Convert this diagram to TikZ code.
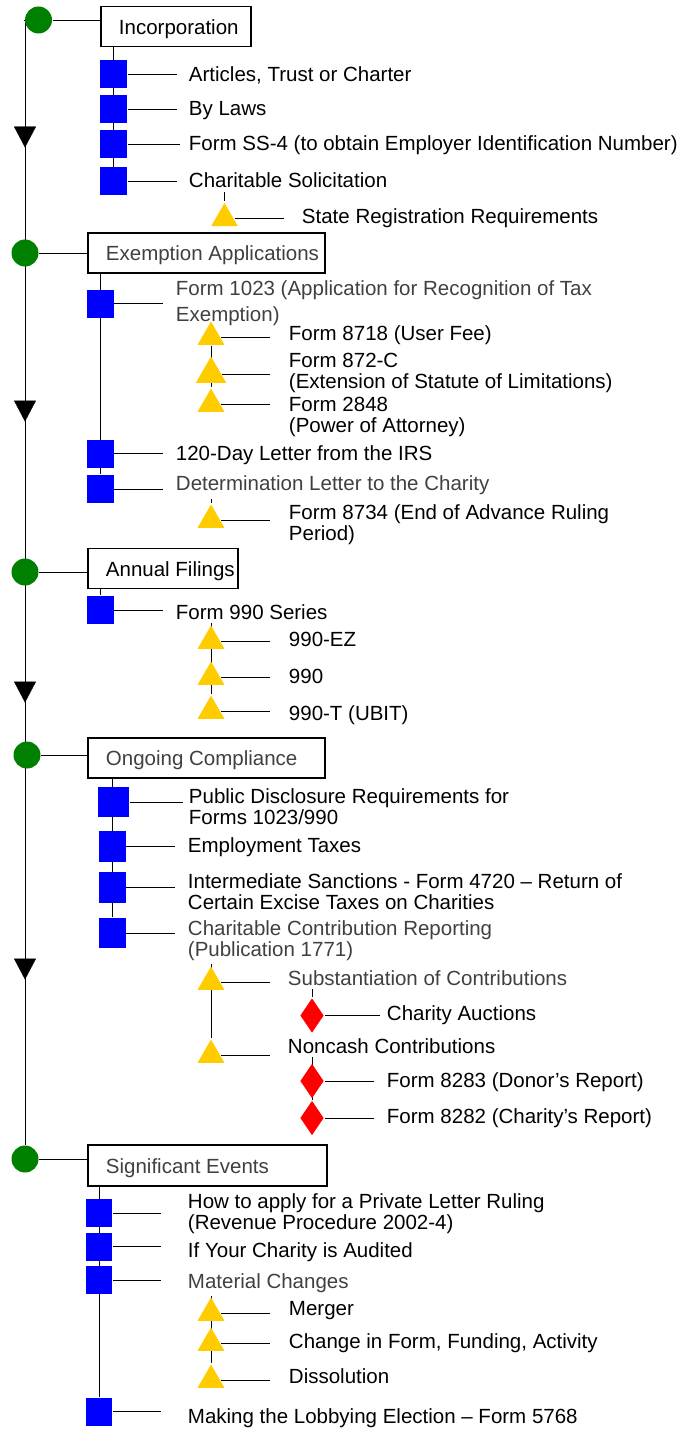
\documentclass[tikz,border=0pt]{standalone}
\usepackage{fontspec}
\setmainfont{Liberation Sans}
\usetikzlibrary{shapes.geometric, arrows.meta, decorations.markings}
\definecolor{stepgreen}{RGB}{0,128,0}
\definecolor{itemblue}{RGB}{0,0,255}
\definecolor{subgold}{RGB}{255,204,0}
\definecolor{leafred}{RGB}{255,0,0}
\tikzset{
    every node/.style={font=\fontsize{20.5}{21}\selectfont}
}
\tikzset{
    stage/.style={circle, fill=stepgreen, minimum size=27pt, inner sep=0pt},
    phase/.style={draw, fill=white, minimum height=40pt, anchor=west, inner sep=0pt},
    phaselbl/.style={anchor=west, inner xsep=18pt, inner ysep=0pt, text height=15pt, text depth=0pt},
    item/.style={rectangle, fill=itemblue, minimum width=27pt, minimum height=28pt, inner sep=0pt},
    sub/.style={regular polygon, regular polygon sides=3, fill=subgold, minimum size=31pt, inner sep=0pt},
    leaf/.style={diamond, fill=leafred, minimum width=24pt, minimum height=35pt, inner sep=0pt},
    txt/.style={anchor=base west, align=left, inner xsep=11pt, inner ysep=3pt},
    faint/.style={text=black!75}
}
\pgfdeclarelayer{background}
\pgfsetlayers{background,main}

\begin{document}
\begin{tikzpicture}[x=1pt, y=-1pt, line width=1.9pt]
  \useasboundingbox (0,0) rectangle (685,1431);

  % Incorporation
  \node (c1) [stage] at (38.5, 20) {};
  \node (b1) [phase, minimum width=150pt, label={[phaselbl, yshift=-1pt]west:Incorporation}] at (100, 26.5) {};
  \node (s11) [item] at (113.5, 74.5) {};
  \node (s12) [item] at (113.5, 109) {};
  \node (s13) [item] at (113.5, 144) {};
  \node (s14) [item] at (113.5, 181.5) {};
  \node (t11) [txt] at (177, 81.5) {Articles, Trust or Charter};
  \node (t12) [txt] at (177, 116) {By Laws};
  \node (t13) [txt, inner xsep=8pt] at (180, 150.5) {Form SS-4 (to obtain Employer Identification Number)};
  \node (t14) [txt] at (177, 188) {Charitable Solicitation};
  \node (u11) [sub] at (224.5, 218.5) {};
  \node (t15) [txt, inner xsep=17pt] at (284, 224) {State Registration Requirements};

  % Exemption Applications
  \node (c2) [stage] at (25, 253) {};
  \node (b2) [phase, minimum width=237pt, label={[phaselbl, faint]west:Exemption Applications}] at (87, 253) {};
  \node (s21) [item] at (100, 303.5) {};
  \node (s22) [item] at (100, 453.5) {};
  \node (s23) [item] at (100, 489) {};
  \node (t21) [txt, faint, inner xsep=12pt, font=\fontsize{20.5}{26}\selectfont] at (163, 321) {Form 1023 (Application for Recognition of Tax\\Exemption)};
  \node (t22) [txt, inner xsep=12pt] at (163, 460.5) {120-Day Letter from the IRS};
  \node (t23) [txt, faint, inner xsep=12pt] at (163, 490.5) {Determination Letter to the Charity};
  \node (u21) [sub] at (211, 337) {};
  \node (u22) [sub, minimum size=35pt] at (211, 374) {};
  \node (u23) [sub] at (211, 404) {};
  \node (u24) [sub] at (211, 520) {};
  \node (t24) [txt, inner xsep=18pt] at (270, 340) {Form 8718 (User Fee)};
  \node (t25) [txt, inner xsep=18pt] at (270, 388) {Form 872-C\\(Extension of Statute of Limitations)};
  \node (t26) [txt, inner xsep=18pt] at (270, 432.5) {Form 2848\\(Power of Attorney)};
  \node (t27) [txt, inner xsep=18pt] at (270, 540) {Form 8734 (End of Advance Ruling\\Period)};

  % Annual Filings
  \node (c3) [stage] at (25, 572) {};
  \node (b3) [phase, minimum width=150pt, label={[phaselbl]west:Annual Filings}] at (87, 568.5) {};
  \node (s31) [item] at (100, 610) {};
  \node (t31) [txt, inner xsep=12pt] at (163, 619) {Form 990 Series};
  \node (u31) [sub] at (211, 641) {};
  \node (u32) [sub] at (211, 677) {};
  \node (u33) [sub] at (211, 711) {};
  \node (t32) [txt, inner xsep=18pt] at (270, 646.5) {990-EZ};
  \node (t33) [txt, inner xsep=18pt] at (270, 683) {990};
  \node (t34) [txt, inner xsep=18pt] at (270, 720) {990-T (UBIT)};

  % Ongoing Compliance
  \node (c4) [stage] at (27, 755) {};
  \node (b4) [phase, minimum width=237pt, label={[phaselbl, faint]west:Ongoing Compliance}] at (87, 758) {};
  \node (s41) [item, minimum width=31pt, minimum height=30pt] at (113.5, 802) {};
  \node (s42) [item, minimum height=31pt] at (112, 846.5) {};
  \node (s43) [item, minimum height=31pt] at (112, 887.5) {};
  \node (s44) [item, minimum height=30pt] at (112, 933) {};
  \node (t41) [txt, inner xsep=5pt] at (183, 824) {Public Disclosure Requirements for\\Forms 1023/990};
  \node (t42) [txt, inner xsep=12pt] at (175, 852.5) {Employment Taxes};
  \node (t43) [txt, inner xsep=12pt] at (175, 909) {Intermediate Sanctions - Form 4720 – Return of\\Certain Excise Taxes on Charities};
  \node (t44) [txt, faint, inner xsep=12pt] at (175, 956) {Charitable Contribution Reporting\\(Publication 1771)};
  \node (u41) [sub] at (211, 982) {};
  \node (u42) [sub] at (211, 1055) {};
  \node (t45) [txt, faint, inner xsep=17pt] at (270, 985) {Substantiation of Contributions};
  \node (t46) [txt, inner xsep=17pt] at (270, 1053) {Noncash Contributions};
  \node (d41) [leaf] at (312, 1015.5) {};
  \node (d42) [leaf] at (312, 1081) {};
  \node (d43) [leaf] at (312, 1118) {};
  \node (t47) [txt, inner xsep=6pt] at (380, 1020) {Charity Auctions};
  \node (t48) [txt, inner xsep=12pt] at (374, 1087.5) {Form 8283 (Donor's Report)};
  \node (t49) [txt, inner xsep=12pt] at (374, 1123) {Form 8282 (Charity's Report)};

  % Significant Events
  \node (c5) [stage] at (25, 1159) {};
  \node (b5) [phase, minimum width=239pt, minimum height=41pt, label={[phaselbl, faint]west:Significant Events}] at (87, 1165.5) {};
  \node (s51) [item, minimum width=26pt] at (99, 1213) {};
  \node (s52) [item, minimum width=26pt] at (99, 1246.5) {};
  \node (s53) [item, minimum width=26pt] at (99, 1280) {};
  \node (s54) [item, minimum width=26pt] at (99, 1411.5) {};
  \node (t51) [txt, inner xsep=26pt] at (161, 1229) {How to apply for a Private Letter Ruling\\(Revenue Procedure 2002-4)};
  \node (t52) [txt, inner xsep=26pt] at (161, 1257.5) {If Your Charity is Audited};
  \node (t53) [txt, faint, inner xsep=26pt] at (161, 1288) {Material Changes};
  \node (t54) [txt, inner xsep=26pt] at (161, 1423) {Making the Lobbying Election – Form 5768};
  \node (u51) [sub] at (211, 1313) {};
  \node (u52) [sub] at (211, 1343) {};
  \node (u53) [sub] at (211, 1380) {};
  \node (t55) [txt, inner xsep=18pt] at (270, 1315) {Merger};
  \node (t56) [txt, inner xsep=18pt] at (270, 1348.5) {Change in Form, Funding, Activity};
  \node (t57) [txt, inner xsep=18pt] at (270, 1383.5) {Dissolution};

  \begin{pgfonlayer}{background}
    % main line with its arrows
    \draw [postaction={decorate}, decoration={markings,
        mark=at position 128.5pt with {\arrow{Triangle[width=22pt, length=21pt]}},
        mark=at position 402.5pt with {\arrow{Triangle[width=22pt, length=21pt]}},
        mark=at position 683.5pt with {\arrow{Triangle[width=22pt, length=21pt]}},
        mark=at position 960.5pt with {\arrow{Triangle[width=22pt, length=21pt]}}}]
      (c1) -- (c1 -| c5) -- (c5);
    \draw (c1) -- (c1 -| b1.west);
    \draw (c2) -- (c2 -| b2.west);
    \draw (c3) -- (c3 -| b3.west);
    \draw (c4) -- (c4 -| b4.west);
    \draw (c5) -- (c5 -| b5.west);

    \draw (s11 |- b1.south) -- (s14);
    \draw (s11) -- (s11 -| t11.west);
    \draw (s12) -- (s12 -| t12.west);
    \draw (s13) -- (s13 -| t13.west);
    \draw (s14) -- (s14 -| t14.west);
    \draw (u11 |- t14.south) -- (u11);
    \draw (u11) -- (u11 -| t15.west);

    \draw (s21 |- b2.south) -- (s23);
    \draw (s21) -- (s21 -| t21.west);
    \draw (s22) -- (s22 -| t22.west);
    \draw (s23) -- (s23 -| t23.west);
    \draw (u21) -- (u23);
    \draw (u21) -- (u21 -| t24.west);
    \draw (u22) -- (u22 -| t25.west);
    \draw (u23) -- (u23 -| t26.west);
    \draw (u24 |- t23.south) -- (u24);
    \draw (u24) -- (u24 -| t27.west);

    \draw (s31 |- b3.south) -- (s31);
    \draw (s31) -- (s31 -| t31.west);
    \draw (u31 |- t31.south) -- (u33);
    \draw (u31) -- (u31 -| t32.west);
    \draw (u32) -- (u32 -| t33.west);
    \draw (u33) -- (u33 -| t34.west);

    \draw (s42 |- b4.south) -- (s44);
    \draw (s41) -- (s41 -| t41.west);
    \draw (s42) -- (s42 -| t42.west);
    \draw (s43) -- (s43 -| t43.west);
    \draw (s44) -- (s44 -| t44.west);
    \draw (u41 |- t44.south) -- (u42);
    \draw (u41) -- (u41 -| t45.west);
    \draw (u42) -- (u42 -| t46.west);
    \draw (d41 |- t45.south) -- (d41);
    \draw (d41) -- (d41 -| t47.west);
    \draw (d42 |- t46.south) -- (d43);
    \draw (d42) -- (d42 -| t48.west);
    \draw (d43) -- (d43 -| t49.west);

    \draw (s51 |- b5.south) -- (s54);
    \draw (s51) -- (s51 -| t51.west);
    \draw (s52) -- (s52 -| t52.west);
    \draw (s53) -- (s53 -| t53.west);
    \draw (s54) -- (s54 -| t54.west);
    \draw (u51 |- t53.south) -- (u53);
    \draw (u51) -- (u51 -| t55.west);
    \draw (u52) -- (u52 -| t56.west);
    \draw (u53) -- (u53 -| t57.west);
  \end{pgfonlayer}
\end{tikzpicture}
\end{document}
